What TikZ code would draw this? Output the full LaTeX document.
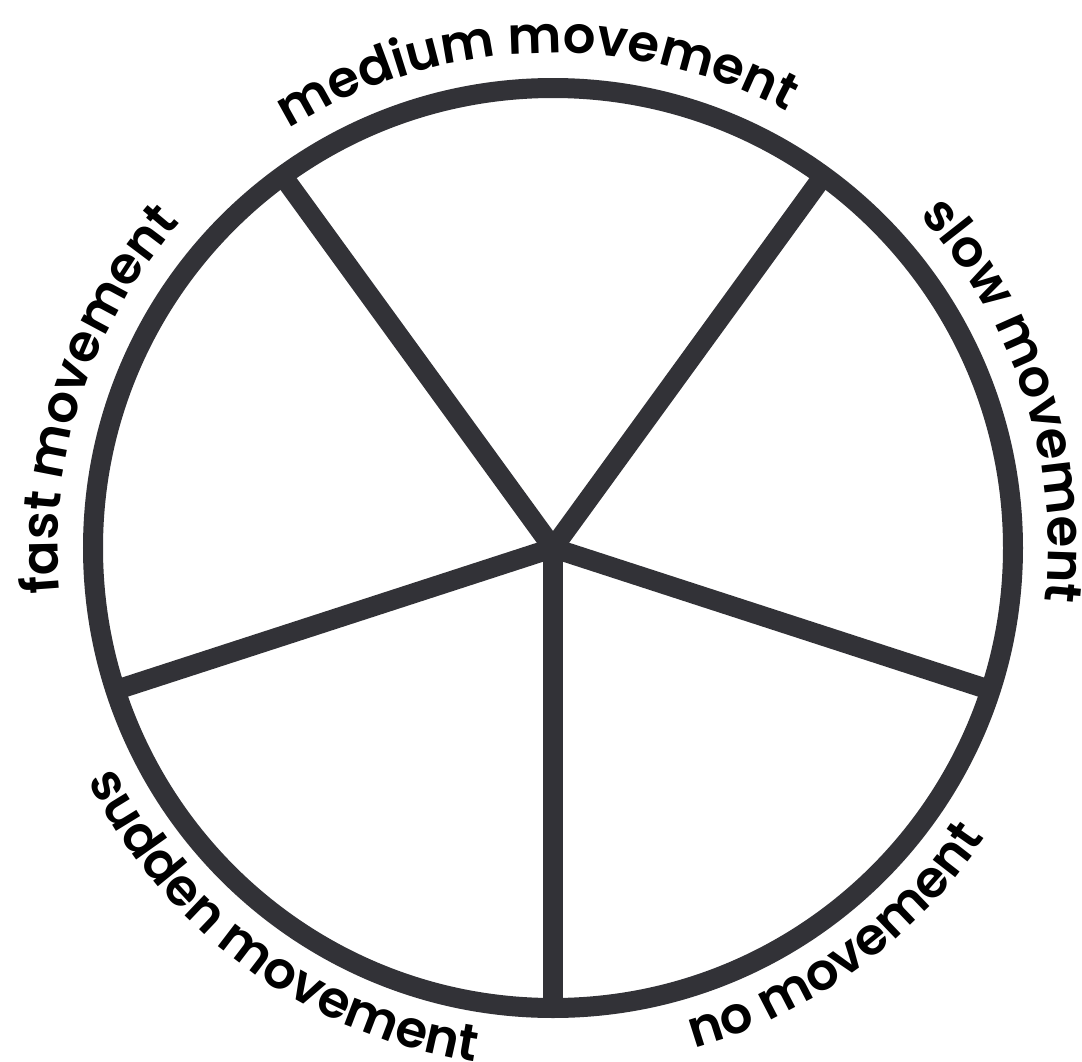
\documentclass[tikz,border=0pt]{standalone}
\usepackage{fontspec}
\setmainfont{Poppins}[BoldFont={Poppins SemiBold}]
\usetikzlibrary{decorations.text, calc}
\definecolor{grisoscuro}{HTML}{323237}
\colorlet{colTrazo}{grisoscuro}
\colorlet{colTexto}{black}
\newcommand{\fuenteRueda}{\fontsize{14.6}{17}\selectfont\bfseries}
\tikzset{
  trazoRueda/.style={draw=colTrazo, line width=0.2cm},
  rayoRueda/.style={draw=colTrazo, line width=0.2cm},
  etiquetaArco/.style={
    decorate,
    decoration={text along path, text align=center, text color=colTexto,
      text={|\fuenteRueda|#1}}
  },
}

\begin{document}
\begin{tikzpicture}
  \useasboundingbox (0,0) rectangle (10.82,10.61);
  \coordinate (centro) at (5.53,5.13);
  \draw[trazoRueda] (centro) circle[radius=4.6];
  % rayos
  \foreach \ang/\nombre in {126/rA, 54/rB, -18/rC, -90/rD, 198/rE} {
    \coordinate (\nombre) at ($(centro)+(\ang:4.6)$);
    \draw[rayoRueda] (centro) -- (\nombre);
  }
  % etiquetas de arriba (sentido horario)
  \path[etiquetaArco={fast movement}]
    ($(centro)+(212:4.95)$) arc[start angle=212, end angle=112, radius=4.95];
  \path[etiquetaArco={medium movement}]
    ($(centro)+(142:4.95)$) arc[start angle=142, end angle=42, radius=4.95];
  \path[etiquetaArco={slow movement}]
    ($(centro)+(68:4.95)$) arc[start angle=68, end angle=-32, radius=4.95];
  % etiquetas de abajo (sentido antihorario)
  \path[etiquetaArco={sudden movement}]
    ($(centro)+(184:5.2)$) arc[start angle=184, end angle=284, radius=5.2];
  \path[etiquetaArco={no movement}]
    ($(centro)+(-104:5.2)$) arc[start angle=-104, end angle=-4, radius=5.2];
\end{tikzpicture}
\end{document}
